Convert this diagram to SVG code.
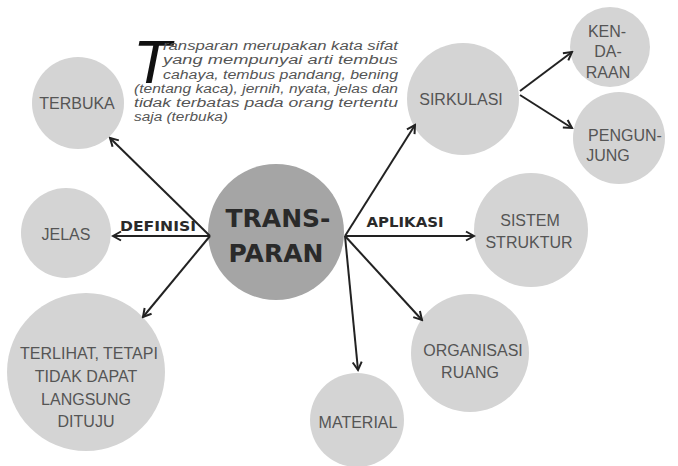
<svg xmlns="http://www.w3.org/2000/svg" width="678" height="466" viewBox="0 0 678 466">
<defs>
<marker id="arr" viewBox="0 0 12 12" refX="10" refY="6" markerWidth="12" markerHeight="12" markerUnits="userSpaceOnUse" orient="auto">
<path d="M2,1.5 L10,6 L2,10.5" fill="none" stroke="#222" stroke-width="2"/>
</marker>
<style>
.n{fill:#d4d4d4}
.c{fill:#a5a5a5}
.t{font-family:"Liberation Sans","DejaVu Sans",sans-serif;font-size:16px;fill:#555;text-anchor:middle}
.b{font-family:"DejaVu Sans","Liberation Sans",sans-serif;font-weight:bold;fill:#2a2a2a;text-anchor:middle}
.p{font-family:"Liberation Sans","DejaVu Sans",sans-serif;font-size:12px;font-style:italic;fill:#555}
.e{fill:none;stroke:#222;stroke-width:2;marker-end:url(#arr)}
</style>
</defs>
<rect width="678" height="466" fill="#fff"/>
<g id="description">
<text x="133" y="83" font-family="Liberation Sans,sans-serif" font-style="italic" font-size="62" fill="#111">T</text>
<text class="p" x="163" y="50" textLength="235" lengthAdjust="spacingAndGlyphs">ransparan merupakan kata sifat</text>
<text class="p" x="163" y="64" textLength="235" lengthAdjust="spacingAndGlyphs">yang mempunyai arti tembus</text>
<text class="p" x="163" y="79" textLength="235" lengthAdjust="spacingAndGlyphs">cahaya, tembus pandang, bening</text>
<text class="p" x="134" y="93" textLength="264" lengthAdjust="spacingAndGlyphs">(tentang kaca), jernih, nyata, jelas dan</text>
<text class="p" x="134" y="107" textLength="264" lengthAdjust="spacingAndGlyphs">tidak terbatas pada orang tertentu</text>
<text class="p" x="134" y="121" textLength="94" lengthAdjust="spacingAndGlyphs">saja (terbuka)</text>
</g>
<g id="node-terbuka"><circle class="n" cx="78" cy="103" r="46"/><text class="t" x="77" y="109" font-size="16.5">TERBUKA</text></g>
<g id="node-jelas"><circle class="n" cx="66" cy="233" r="45"/><text class="t" x="66" y="240" font-size="16.5">JELAS</text></g>
<g id="node-terlihat"><circle class="n" cx="86" cy="372" r="79"/>
<text class="t" x="89" y="359" font-size="18">TERLIHAT, TETAPI</text>
<text class="t" x="86" y="382" font-size="18">TIDAK DAPAT</text>
<text class="t" x="86" y="405" font-size="18">LANGSUNG</text>
<text class="t" x="86" y="427" font-size="18">DITUJU</text></g>
<g id="node-transparan"><circle class="c" cx="276" cy="232" r="68"/>
<text class="b" x="278" y="227" font-size="25">TRANS-</text>
<text class="b" x="276" y="262" font-size="25">PARAN</text></g>
<g id="node-sirkulasi"><circle class="n" cx="463" cy="99" r="56"/><text class="t" x="461" y="105" font-size="17">SIRKULASI</text></g>
<g id="node-kendaraan"><circle class="n" cx="610" cy="47" r="40"/>
<text class="t" x="607" y="37" font-size="19">KEN-</text><text class="t" x="608" y="57" font-size="19">DA-</text><text class="t" x="608" y="78" font-size="19">RAAN</text></g>
<g id="node-pengunjung"><circle class="n" cx="619" cy="138" r="46"/>
<text class="t" x="625" y="141" font-size="17.5">PENGUN-</text><text class="t" x="608" y="161" font-size="17.5">JUNG</text></g>
<g id="node-sistem"><circle class="n" cx="531" cy="230" r="57"/>
<text class="t" x="530" y="226" font-size="15.5">SISTEM</text><text class="t" x="529" y="248" font-size="15.5">STRUKTUR</text></g>
<g id="node-organisasi"><circle class="n" cx="470" cy="353" r="59"/>
<text class="t" x="473" y="356" font-size="19.5">ORGANISASI</text><text class="t" x="470" y="378" font-size="19.5">RUANG</text></g>
<g id="node-material"><circle class="n" cx="357" cy="420" r="47"/><text class="t" x="358" y="428" font-size="18.5">MATERIAL</text></g>
<g id="connectors">
<line class="e" x1="210" y1="236" x2="110" y2="138"/>
<line class="e" x1="210" y1="236" x2="113" y2="236"/>
<line class="e" x1="210" y1="236" x2="143" y2="317"/>
<line class="e" x1="345" y1="236" x2="415" y2="125"/>
<line class="e" x1="345" y1="236" x2="474" y2="236"/>
<line class="e" x1="345" y1="236" x2="422" y2="320"/>
<line class="e" x1="345" y1="236" x2="358" y2="370"/>
<line class="e" x1="520" y1="91" x2="572" y2="52"/>
<line class="e" x1="520" y1="95" x2="572" y2="128"/>
<text class="b" x="158" y="231" font-size="13.5" textLength="76" lengthAdjust="spacingAndGlyphs">DEFINISI</text>
<text class="b" x="405" y="227" font-size="13.5" textLength="77" lengthAdjust="spacingAndGlyphs">APLIKASI</text>
</g>
</svg>
